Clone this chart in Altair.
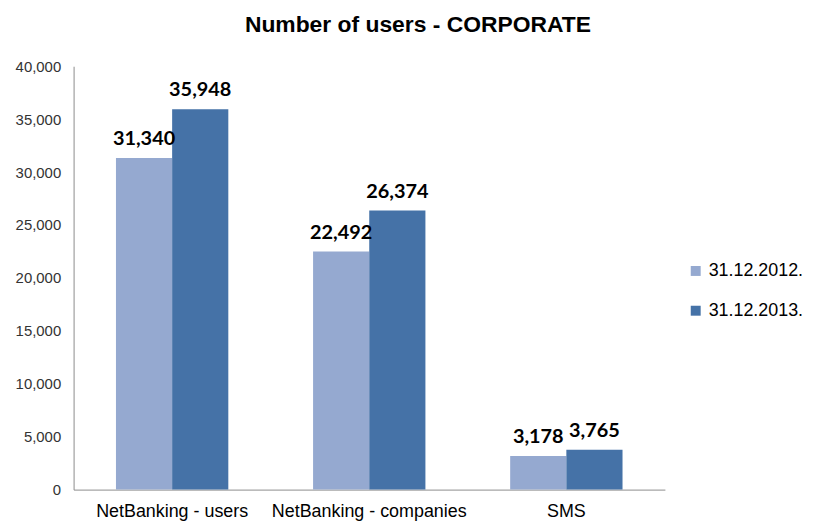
import altair as alt
import pandas as pd

categories = ["NetBanking - users", "NetBanking - companies", "SMS"]
series = ["31.12.2012.", "31.12.2013."]
values_2012 = [31340, 22492, 3178]
values_2013 = [35948, 26374, 3765]
colors = ["#95A9D0", "#4572A7"]

rows = []
for c, a, b in zip(categories, values_2012, values_2013):
    rows.append({"category": c, "date": series[0], "users": a})
    rows.append({"category": c, "date": series[1], "users": b})
df = pd.DataFrame(rows)

x = alt.X("category:N", sort=categories, title=None,
          scale=alt.Scale(paddingInner=0.43, paddingOuter=0.215),
          axis=alt.Axis(labelAngle=0, labelFont="Liberation Sans", labelFontSize=18,
                        labelColor="#000000", ticks=False, domainColor="#8C8C8C",
                        labelPadding=13, labelLimit=400))
xo = alt.XOffset("date:N", sort=series, scale=alt.Scale(paddingInner=0))

base = alt.Chart(df).encode(x=x, xOffset=xo)

bars = base.mark_bar().encode(
    y=alt.Y("users:Q", title=None,
            scale=alt.Scale(domain=[0, 40000]),
            axis=alt.Axis(values=list(range(0, 40001, 5000)), format=",d", grid=False,
                          labelFont="Liberation Sans", labelFontSize=15,
                          labelColor="#333333", ticks=False, domainColor="#8C8C8C",
                          labelPadding=13)),
    color=alt.Color("date:N", sort=series,
                    scale=alt.Scale(domain=series, range=colors),
                    legend=alt.Legend(title=None, orient="none", legendX=617, legendY=197,
                                      symbolType="square", symbolSize=100,
                                      symbolStrokeWidth=0,
                                      labelFont="Liberation Sans", labelFontSize=18,
                                      labelColor="#000000", rowPadding=22,
                                      labelOffset=4)),
)

labels = base.mark_text(font="Lato", fontWeight="bold", fontSize=20, dy=-13,
                        color="#000000", baseline="alphabetic").encode(
    y=alt.Y("users:Q"),
    text=alt.Text("users:Q", format=",d"),
)

chart = (bars + labels).properties(
    width=595, height=426,
    title=alt.TitleParams("Number of users - CORPORATE", font="Liberation Sans",
                          fontSize=23, fontWeight="bold", color="#000000",
                          anchor="middle", offset=22, dx=49),
    padding={"left": 7, "top": 5, "right": 5, "bottom": 0},
).configure_view(stroke=None)

chart.save("out.html", embed_options={"renderer": "svg", "actions": False})
